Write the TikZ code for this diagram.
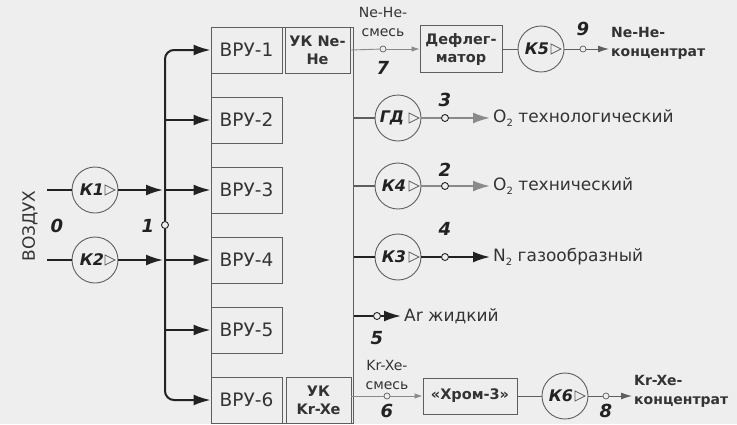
\documentclass[tikz,border=0pt]{standalone}
\usepackage{fontspec}
\setmainfont{DejaVu Sans}
\usetikzlibrary{arrows.meta}
\definecolor{ink}{HTML}{222222}
\definecolor{txt}{HTML}{333333}
\definecolor{soft}{HTML}{5E5E5E}
\definecolor{pale}{HTML}{8A8A8A}
\definecolor{paper}{HTML}{EEEEEE}
\newcommand\comptri[2][0pt]{\draw[soft, line width=0.8pt] ([xshift=10pt+#1,yshift=5pt]#2.center) -- ([xshift=20pt+#1]#2.center) -- ([xshift=10pt+#1,yshift=-5pt]#2.center) -- cycle;}
\newcommand\subtwo{\raisebox{-0.35ex}{\fontsize{10}{10}\selectfont 2}}
\begin{document}
\begin{tikzpicture}[x=1pt,y=-1pt,
  box/.style={draw=soft, line width=0.9pt, inner sep=0pt, text=txt, align=center},
  vru/.style={box, minimum width=71pt, minimum height=46pt, font=\fontsize{18.5}{20}\selectfont},
  bbox/.style={box, font=\bfseries\fontsize{14.5}{18}\selectfont},
  comp/.style={circle, draw=soft, line width=0.9pt, minimum size=46pt, inner sep=0pt},
  clab/.style={text=ink, font=\bfseries\itshape\fontsize{16}{18}\selectfont, inner sep=0pt},
  junc/.style={circle, draw=ink, fill=paper, line width=0.9pt, minimum size=7pt, inner sep=0pt},
  num/.style={text=ink, font=\bfseries\itshape\fontsize{18}{20}\selectfont, inner sep=0pt},
  outtxt/.style={text=txt, font=\fontsize{17}{20}\selectfont, anchor=west, inner sep=3pt},
  bouttxt/.style={text=txt, font=\bfseries\fontsize{14}{19}\selectfont, anchor=west, align=left, inner sep=2pt},
  mixtxt/.style={text=txt, font=\fontsize{14}{19}\selectfont, align=center, inner sep=0pt},
  main/.style={draw=ink, line width=2pt},
  thin/.style={draw=soft, line width=1pt},
  faint/.style={draw=pale, line width=0.9pt},
  grey/.style={draw=pale, line width=2pt},
  bigarr/.style={-{Latex[length=17pt,width=11pt]}},
  midarr/.style={-{Latex[length=11pt,width=7pt]}},
  smallarr/.style={-{Latex[length=8pt,width=5.5pt]}}
]
\fill[paper] (0,0) rectangle (737,424);
\useasboundingbox (0,0) rectangle (737,424);

% plant block
\node[box, minimum width=142pt, minimum height=396pt, anchor=north west] (plant) at (211,27) {};
\node[vru] (vru1) at (246.5,50) {ВРУ-1};
\node[vru] (vru2) at (246.5,120) {ВРУ-2};
\node[vru] (vru3) at (246.5,190) {ВРУ-3};
\node[vru] (vru4) at (246.5,260) {ВРУ-4};
\node[vru] (vru5) at (246.5,330) {ВРУ-5};
\node[vru] (vru6) at (246.5,400) {ВРУ-6};
\node[bbox, minimum width=65pt, minimum height=46pt] (ukne) at (317.5,50) {УК Ne-\\He};
\node[bbox, minimum width=65pt, minimum height=46pt] (ukkr) at (318.5,400) {УК\\Kr-Xe};

% air side
\node[rotate=90, text=txt, font=\fontsize{17}{20}\selectfont] (air) at (30,226) {ВОЗДУХ};
\node[num] (n0) at (57,226) {0};
\node[junc] (j1) at (165,225) {};
\node[num] (n1) at (148,226) {1};
\coordinate (in1) at (47,190);
\coordinate (in2) at (47,260);
\node[comp] (k1) at (95,190) {};
\node[clab] (k1t) at ([xshift=-3pt]k1.center) {К1};
\comptri{k1}
\node[comp] (k2) at (95,260) {};
\node[clab] (k2t) at ([xshift=-3pt]k2.center) {К2};
\comptri{k2}
\draw[main] (in1) -- (k1);
\draw[main] (in2) -- (k2);
\draw[main, bigarr, shorten >=2pt] (k1) -- (k1 -| j1);
\draw[main, bigarr, shorten >=2pt] (k2) -- (k2 -| j1);

% distribution bus
\draw[main, bigarr, rounded corners=9pt] (j1) |- (vru1.west);
\draw[main, bigarr, rounded corners=9pt] (j1) |- (vru6.west);
\draw[main, bigarr] (vru2.west -| j1) -- (vru2.west);
\draw[main, bigarr] (vru3.west -| j1) -- (vru3.west);
\draw[main, bigarr] (vru4.west -| j1) -- (vru4.west);
\draw[main, bigarr] (vru5.west -| j1) -- (vru5.west);

% Ne-He line
\node[junc, draw=soft, line width=0.7pt, minimum size=6pt] (j7) at (383,49) {};
\node[mixtxt] (nemix) at (383,22) {Ne-He-\\смесь};
\node[num] (n7) at (383,68) {7};
\node[bbox, minimum width=82pt, minimum height=47pt] (defl) at (461,49) {Дефлег-\\матор};
\node[comp] (k5) at (541,49) {};
\node[clab] (k5t) at ([xshift=-4pt]k5.center) {К5};
\comptri{k5}
\node[junc, draw=soft, line width=0.7pt, minimum size=6pt] (j9) at (583,49) {};
\node[num] (n9) at (583,29) {9};
\node[bouttxt] (neconc) at (609,43) {Ne-He-\\концентрат};
\draw[faint] (ukne.east) -- (j7);
\draw[faint, smallarr] (j7) -- (defl.west);
\draw[thin] (defl) -- (k5);
\draw[thin] (k5) -- (j9);
\draw[thin, midarr] (j9) -- (j9 -| neconc.west);

% GD row
\node[comp] (gd) at (398,118) {};
\node[clab] (gdt) at ([xshift=-6pt]gd.center) {ГД};
\comptri[1pt]{gd}
\node[junc] (j3) at (445,118) {};
\node[num] (n3) at (445,100) {3};
\node[outtxt] (o2a) at (490,118) {O\subtwo{} технологический};
\draw[thin, line width=1.4pt] (plant.east |- gd) -- (gd);
\draw[grey] (gd) -- (j3);
\draw[grey, bigarr] (j3) -- (o2a.west);

% K4 row
\node[comp] (k4) at (398,186) {};
\node[clab] (k4t) at ([xshift=-4pt]k4.center) {К4};
\comptri[1pt]{k4}
\node[junc] (j2) at (445,186) {};
\node[num] (n2) at (445,170) {2};
\node[outtxt] (o2b) at (490,186) {O\subtwo{} технический};
\draw[thin, line width=1.4pt] (plant.east |- k4) -- (k4);
\draw[grey] (k4) -- (j2);
\draw[grey, bigarr] (j2) -- (o2b.west);

% K3 row
\node[comp] (k3) at (398,257) {};
\node[clab] (k3t) at ([xshift=-4pt]k3.center) {К3};
\comptri[1pt]{k3}
\node[junc] (j4) at (445,257) {};
\node[num] (n4) at (445,229) {4};
\node[outtxt] (n2g) at (490,257) {N\subtwo{} газообразный};
\draw[main] (plant.east |- k3) -- (k3);
\draw[main] (k3) -- (j4);
\draw[main, bigarr] (j4) -- (n2g.west);

% Ar row
\node[junc] (j5) at (377,316) {};
\node[num] (n5) at (377,338) {5};
\node[outtxt] (ar) at (401,316) {Ar жидкий};
\draw[main] (plant.east |- j5) -- (j5);
\draw[main, bigarr] (j5) -- (ar.west);

% Kr-Xe row
\node[junc, draw=soft, line width=0.7pt, minimum size=6pt] (j6) at (387,396) {};
\node[mixtxt] (krmix) at (387,375) {Kr-Xe-\\смесь};
\node[num] (n6) at (387,411) {6};
\node[bbox, minimum width=94pt, minimum height=36pt] (khrom) at (470,396) {«Хром-3»};
\node[comp] (k6) at (565,396) {};
\node[clab] (k6t) at ([xshift=-4pt]k6.center) {К6};
\comptri{k6}
\node[junc, draw=soft, line width=0.7pt, minimum size=6pt] (j8) at (606,396) {};
\node[num] (n8) at (606,411) {8};
\node[bouttxt] (krconc) at (632,391) {Kr-Xe-\\концентрат};
\draw[faint] (ukkr.east |- j6) -- (j6);
\draw[faint, smallarr] (j6) -- (khrom.west);
\draw[thin] (khrom) -- (k6);
\draw[thin] (k6) -- (j8);
\draw[thin, midarr] (j8) -- (j8 -| krconc.west);
\end{tikzpicture}
\end{document}
